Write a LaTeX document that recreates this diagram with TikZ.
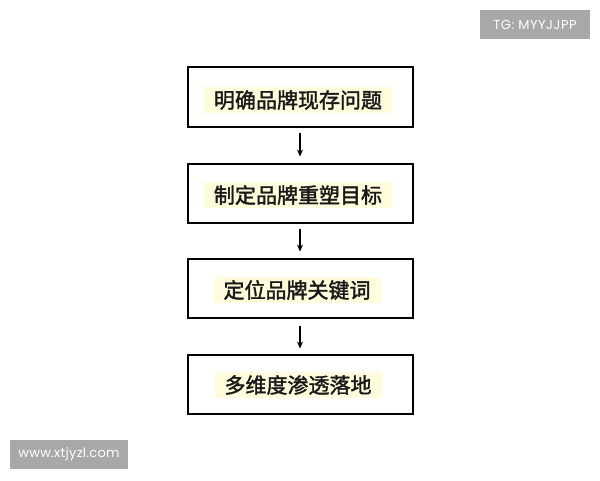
\documentclass[tikz,border=0pt]{standalone}
\usepackage{fontspec}
\newfontfamily\cjk[FakeBold=1.8]{Noto Sans CJK SC}
\newfontfamily\wm{Poppins}
\usetikzlibrary{arrows.meta}
\definecolor{boxfill}{HTML}{FFFFFD}
\definecolor{hl}{HTML}{FFFCDD}
\definecolor{wmgray}{HTML}{A8A8A8}
\tikzset{
  stepbox/.style={draw=black, line width=2pt, fill=boxfill},
  hlbox/.style={fill=hl, inner xsep=10pt, inner ysep=0pt, minimum height=26pt, font=\cjk\fontsize{21pt}{21pt}\selectfont, text=black!90},
  flowarrow/.style={draw=black, line width=1.4pt, -{Stealth[length=7pt,width=6pt]}},
  wmbox/.style={fill=wmgray, inner sep=0pt, text=white, font=\wm\fontsize{13pt}{13pt}\selectfont}
}
\begin{document}
\begin{tikzpicture}[x=1pt,y=-1pt]
\useasboundingbox (0,0) rectangle (600,480);
\fill[white] (0,0) rectangle (600,480);
% boxes
\node[stepbox, minimum width=225pt, minimum height=60pt, inner sep=0pt] (b1) at (300,96.5) {};
\node[stepbox, minimum width=225pt, minimum height=59pt, inner sep=0pt] (b2) at (300,193) {};
\node[stepbox, minimum width=225pt, minimum height=59pt, inner sep=0pt] (b3) at (300,288) {};
\node[stepbox, minimum width=225pt, minimum height=59pt, inner sep=0pt] (b4) at (300,384) {};
% texts with highlight
\node[hlbox] (t1) at (298,100) {明确品牌现存问题};
\node[hlbox] (t2) at (298,195) {制定品牌重塑目标};
\node[hlbox] (t3) at (297,290) {定位品牌关键词};
\node[hlbox] (t4) at (298,385) {多维度渗透落地};
% arrows
\draw[flowarrow] ([yshift=-5pt]b1.south) -- ([yshift=6pt]b2.north);
\draw[flowarrow] ([yshift=-5pt]b2.south) -- ([yshift=6pt]b3.north);
\draw[flowarrow] ([yshift=-7pt]b3.south) -- ([yshift=5pt]b4.north);
% watermarks
\node[wmbox, minimum width=110pt, minimum height=29pt] (w1) at (535,24.5) {\addfontfeature{LetterSpace=4}TG: MYYJJPP};
\node[wmbox, minimum width=118pt, minimum height=29pt] (w2) at (69,454.5) {\addfontfeature{LetterSpace=2}www.xtjyzl.com};
\end{tikzpicture}
\end{document}
